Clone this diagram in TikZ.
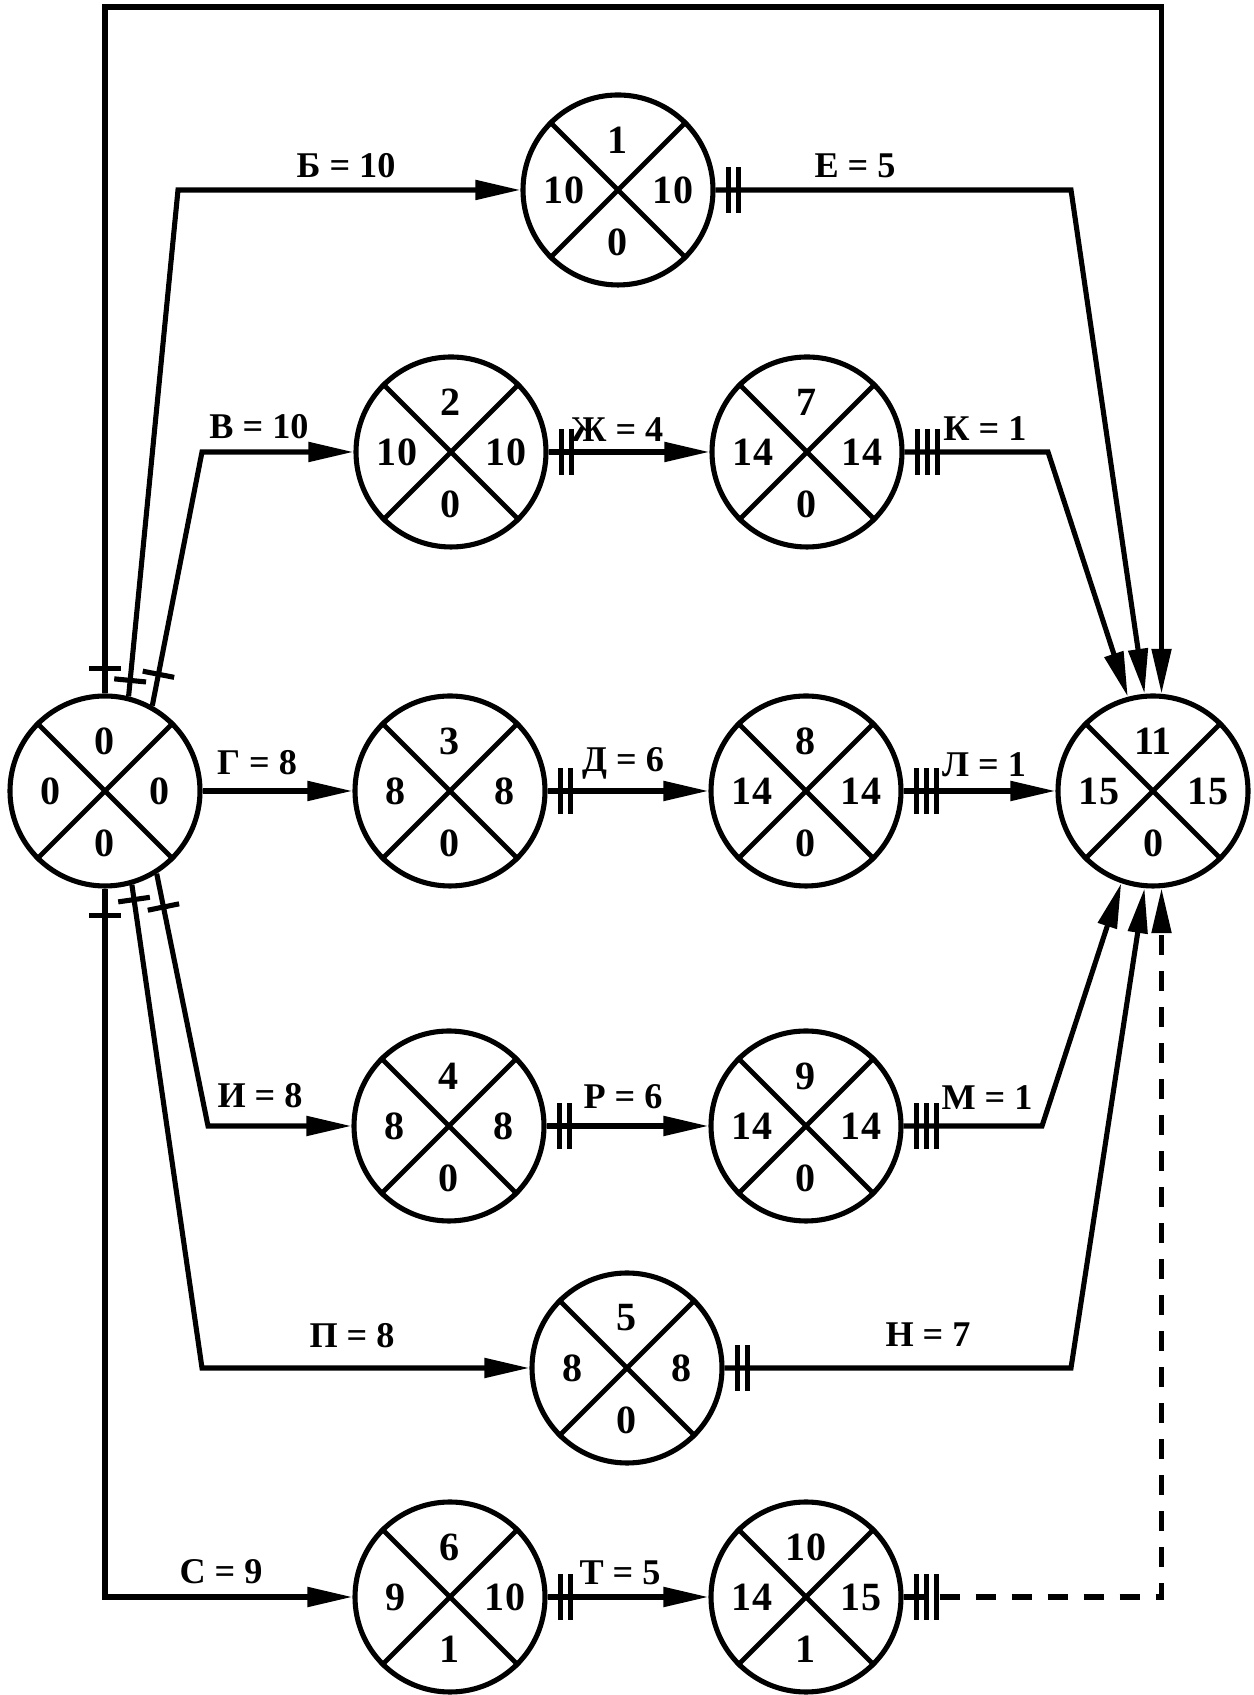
\documentclass[tikz,border=0pt]{standalone}
\usepackage{fontspec}
\setmainfont{Liberation Serif}
\usetikzlibrary{arrows.meta,decorations.markings}

\tikzset{
  evt/.style={circle,draw,line width=1.45pt,minimum size=1.9cm,inner sep=0pt},
  num/.style={inner sep=0pt,font=\bfseries\fontsize{11.4}{13}\selectfont},
  lbl/.style={inner sep=0pt,font=\bfseries\fontsize{10.3}{12}\selectfont},
  bar/.style={line width=1.45pt,solid,-},
  arr/.style={line width=1.45pt,-{Triangle[length=4.5mm,width=1.9mm]}},
  onebar/.style={postaction={decorate,decoration={markings,
      mark=at position #1 with {\draw[bar] (0,-0.16) -- (0,0.16);}}}},
  twobars/.style={postaction={decorate,decoration={markings,
      mark=between positions 0.13cm and 0.24cm step 0.1cm with {\draw[bar] (0,-0.23) -- (0,0.23);}}}},
  threebars/.style={postaction={decorate,decoration={markings,
      mark=between positions 0.13cm and 0.34cm step 0.1cm with {\draw[bar] (0,-0.23) -- (0,0.23);}}}}
}

\newcommand{\evnode}[6]{%
  \node[evt] (#1) at (#2) {};
  \draw[line width=1.35pt] (#1.45) -- (#1.225) (#1.135) -- (#1.315);
  \node[num] (#1t) at ([yshift=0.5cm]#1.center) {#3};
  \node[num] (#1l) at ([xshift=-0.54cm]#1.center) {#4};
  \node[num] (#1r) at ([xshift=0.55cm]#1.center) {#5};
  \node[num] (#1b) at ([yshift=-0.52cm]#1.center) {#6};
}

\begin{document}
\begin{tikzpicture}
    \useasboundingbox (0,0) rectangle (12.53,16.95);
    \evnode{e0}{1.05,9.04}{0}{0}{0}{0}
    \evnode{e1}{6.18,15.05}{1}{10}{10}{0}
    \evnode{e2}{4.51,12.43}{2}{10}{10}{0}
    \evnode{e7}{8.07,12.43}{7}{14}{14}{0}
    \evnode{e3}{4.50,9.04}{3}{8}{8}{0}
    \evnode{e8}{8.06,9.04}{8}{14}{14}{0}
    \evnode{e11}{11.53,9.04}{11}{15}{15}{0}
    \evnode{e4}{4.49,5.69}{4}{8}{8}{0}
    \evnode{e9}{8.06,5.69}{9}{14}{14}{0}
    \evnode{e5}{6.27,3.27}{5}{8}{8}{0}
    \evnode{e6}{4.50,0.98}{6}{9}{10}{1}
    \evnode{e10}{8.06,0.98}{10}{14}{15}{1}
    \coordinate (top) at (6,16.88);

    \draw[arr,onebar=0.25cm] (e0.north) |- (top) -| (e11.85);
    \draw[arr,onebar=0.16cm] (e0.76) -- (1.78,15.05) -- (e1.west);
    \draw[arr,onebar=0.32cm] (e0.61) -- (2.02,12.43) -- (e2.west);
    \draw[arr] (e0.east) -- (e3.west);
    \draw[arr,onebar=0.34cm] (e0.-58) -- (2.08,5.69) -- (e4.west);
    \draw[arr,onebar=0.15cm] (e0.-74) -- (2.02,3.27) -- (e5.west);
    \draw[arr,onebar=0.27cm] (e0.south) |- (e6.west);

    \draw[arr,twobars] (e1.east) -- (10.71,15.05) -- (e11.95);
    \draw[arr,twobars] (e2.east) -- (e7.west);
    \draw[arr,threebars] (e7.east) -- (10.48,12.43) -- (e11.105);
    \draw[arr,twobars] (e3.east) -- (e8.west);
    \draw[arr,threebars] (e8.east) -- (e11.west);
    \draw[arr,twobars] (e4.east) -- (e9.west);
    \draw[arr,threebars] (e9.east) -- (10.42,5.69) -- (e11.251);
    \draw[arr,twobars] (e5.east) -- (10.71,3.27) -- (e11.265);
    \draw[arr,twobars] (e6.east) -- (e10.west);
    \draw[arr,threebars,dash pattern=on 0.2cm off 0.16cm] (e10.east) -| (e11.275);

    \node[lbl] (b) at (3.46,15.29) {Б = 10};
    \node[lbl] (v) at (2.59,12.68) {В = 10};
    \node[lbl] (g) at (2.57,9.32) {Г = 8};
    \node[lbl] (i) at (2.60,5.99) {И = 8};
    \node[lbl] (p) at (3.52,3.59) {П = 8};
    \node[lbl] (s) at (2.21,1.23) {С = 9};
    \node[lbl] (e) at (8.55,15.29) {Е = 5};
    \node[lbl] (zh) at (6.17,12.65) {Ж = 4};
    \node[lbl] (k) at (9.85,12.66) {К = 1};
    \node[lbl] (d) at (6.23,9.32) {Д = 6};
    \node[lbl] (l) at (9.84,9.30) {Л = 1};
    \node[lbl] (r) at (6.23,5.98) {Р = 6};
    \node[lbl] (m) at (9.87,5.97) {М = 1};
    \node[lbl] (n) at (9.28,3.60) {Н = 7};
    \node[lbl] (t) at (6.20,1.22) {Т = 5};
\end{tikzpicture}
\end{document}
